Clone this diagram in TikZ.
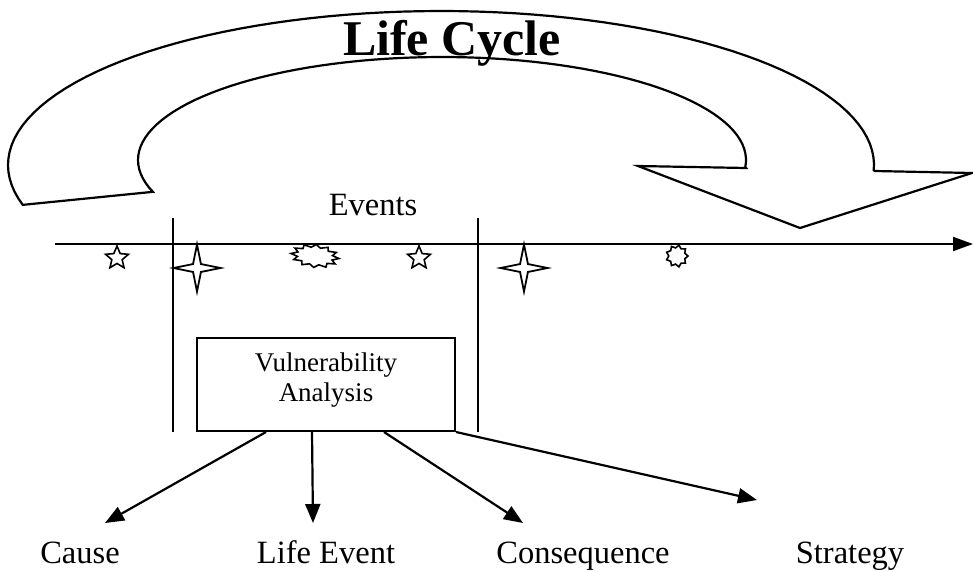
\documentclass[tikz,border=0pt]{standalone}
\usepackage{fontspec}
\setmainfont{Liberation Serif}
\usetikzlibrary{arrows.meta,shapes.geometric,calc}

\tikzset{
  flow/.style={line width=2.2pt, -{Triangle[length=19pt,width=15pt]}},
  lbl/.style={font=\fontsize{32.5}{36}\selectfont, anchor=base, inner sep=0pt},
  smallstar/.style={star, star points=5, star point ratio=2.2, draw, line width=1.6pt, minimum size=24pt, inner sep=0pt},
  sparkle/.style={star, star points=4, star point ratio=4.2, draw, line width=1.8pt, minimum size=47pt, inner sep=0pt},
  burst/.style={line width=1.6pt, line join=miter},
}

\begin{document}
\begin{tikzpicture}[x=1pt, y=-1pt]
  \useasboundingbox (0,0) rectangle (973,571);
  % Life cycle arrow
  \draw[line width=2.2pt, line join=miter]
    plot[domain=165:362, samples=80, variable=\a] ({441+433*cos(\a)}, {165+154*sin(\a)})
    -- (875,171) -- (972,173) -- (800,228) -- (638,166) -- (746,168)
    -- plot[domain=364:162, samples=80, variable=\a] ({442+304*cos(\a)}, {160+103*sin(\a)})
    -- cycle;
  \node[font=\fontsize{50}{50}\selectfont\bfseries, anchor=base, inner sep=0pt] (title) at (452,55) {Life Cycle};
  % Time line with events
  \node[lbl] (events) at (373,215) {Events};
  \draw[line width=2pt, -{Triangle[length=20pt,width=14pt]}] (55,244) -- (973,244);
  \draw[line width=1.6pt] (173,218) -- (173,432);
  \draw[line width=1.6pt] (478,218) -- (478,432);
  \node[smallstar] (ev1) at (117,258) {};
  \node[sparkle] (ev2) at (197,268) {};
  \node[smallstar] (ev4) at (419,258) {};
  \node[sparkle] (ev5) at (524,268) {};
  \draw[burst, rotate around={-6:(315,256)}]
    plot[samples at={0,15,...,345}, variable=\t] ({315+24*(1-0.25*mod(round(\t/15),2))*cos(\t)}, {256+11.5*(1-0.25*mod(round(\t/15),2))*sin(\t)}) -- cycle;
  \draw[burst]
    plot[samples at={0,20,...,340}, variable=\t] ({677+11*(1-0.25*mod(round(\t/20),2))*cos(\t)}, {256+11*(1-0.25*mod(round(\t/20),2))*sin(\t)}) -- cycle;
  % Analysis and its outcomes
  \node[draw, line width=2pt, minimum width=258pt, minimum height=93pt, align=center, inner sep=0pt,
        text depth=14pt, font=\fontsize{27}{30}\selectfont] (vuln) at (326,384.5) {Vulnerability\\Analysis};
  \coordinate (causeTip) at (105,523);
  \coordinate (eventTip) at (313,523);
  \coordinate (consTip) at (523,523);
  \coordinate (stratTip) at (757,500);
  \node[lbl] (cause) at (80,563) {Cause};
  \node[lbl] (event) at (326,563) {Life Event};
  \node[lbl] (cons) at (583,563) {Consequence};
  \node[lbl] (strat) at (850,563) {Strategy};
  \draw[flow] ($(vuln.south west)+(70,0)$) -- (causeTip);
  \draw[flow] ($(vuln.south west)+(116,0)$) -- (eventTip);
  \draw[flow] ($(vuln.south west)+(188,0)$) -- (consTip);
  \draw[flow] (vuln.south east) -- (stratTip);
\end{tikzpicture}
\end{document}
